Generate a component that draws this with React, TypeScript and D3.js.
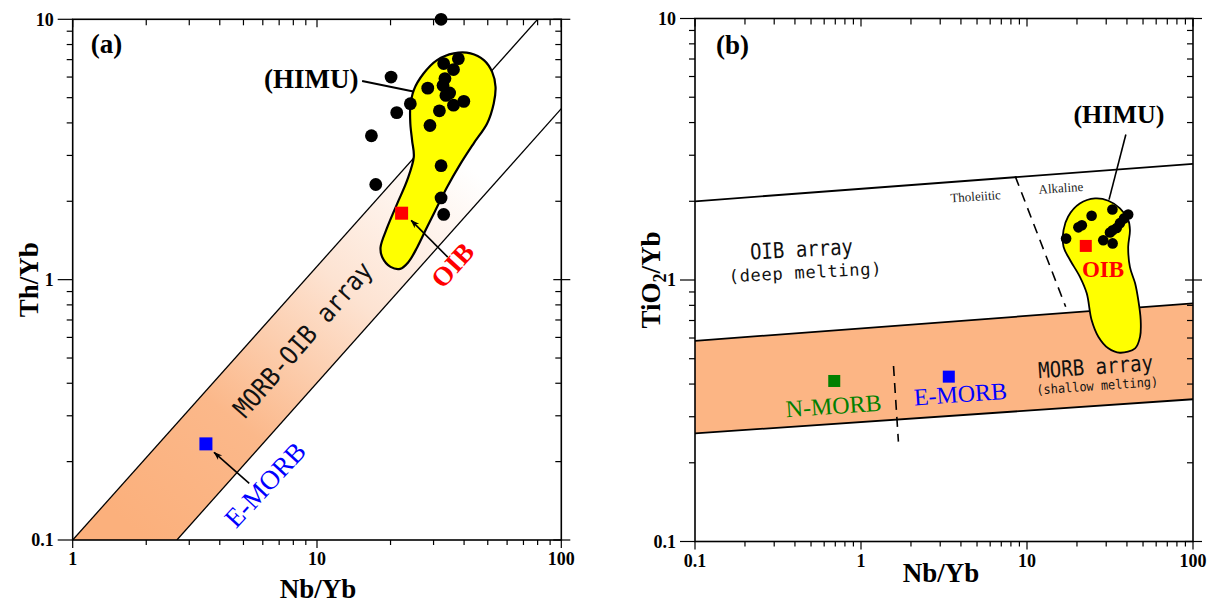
import React from 'react';
import * as d3 from 'd3';

const W = 1217;
const H = 605;

// ---------- Panel (a): Th/Yb vs Nb/Yb ----------
const aHimuNb = [32.2, 37.9, 33.0, 36.2, 20.1, 33.4, 32.8, 28.4, 34.9, 33.7, 24.1, 39.9, 36.2, 21.2, 31.7, 29.0, 16.7, 32.2, 17.4, 32.2, 33.0];
const aHimuTh = [10.0, 7.06, 6.76, 6.41, 6.0, 5.92, 5.57, 5.44, 5.21, 5.1, 4.74, 4.84, 4.68, 4.38, 4.45, 3.91, 3.57, 2.74, 2.32, 2.06, 1.78];
const aFieldNb = [36.3, 42.5, 48.2, 52.1, 53.8, 52.9, 49.7, 43.8, 38.7, 34.1, 31.0, 28.2, 25.7, 23.7, 21.9, 20.0, 18.5, 18.2, 19.4, 21.3, 23.4, 24.9, 24.5, 24.1, 24.1, 24.9, 27.3, 31.0];
const aFieldTh = [7.40, 7.40, 6.97, 6.28, 5.51, 4.75, 3.98, 3.34, 2.79, 2.27, 1.90, 1.59, 1.33, 1.17, 1.10, 1.12, 1.22, 1.33, 1.59, 1.96, 2.41, 2.96, 3.43, 3.98, 4.61, 5.35, 6.19, 6.97];
const aBandUpper = [[1, 0.1], [80, 10]];
const aBandLower = [[2.67, 0.1], [100, 4.54]];
const aOib = [22.2, 1.80];
const aEmorb = [3.51, 0.234];
const aXTickLabels = ['1', '10', '100'];
const aYTickLabels = ['0.1', '1', '10'];

// ---------- Panel (b): TiO2/Yb vs Nb/Yb ----------
const bHimuNb = [32.7, 40.7, 38.4, 36.3, 24.5, 21.4, 20.4, 34.7, 32.8, 31.6, 17.2, 28.8, 32.8];
const bHimuTi = [1.86, 1.78, 1.72, 1.65, 1.76, 1.62, 1.59, 1.58, 1.55, 1.52, 1.44, 1.42, 1.38];
const bFieldNb = [25.7, 30.9, 36.3, 40.7, 41.7, 40.7, 41.7, 44.8, 46.8, 48.4, 48.0, 44.8, 36.3, 30.9, 26.9, 24.5, 22.9, 20.8, 18.2, 16.6, 16.6, 17.7, 20.8];
const bFieldTi = [2.05, 2.01, 1.88, 1.70, 1.55, 1.34, 1.12, 0.971, 0.839, 0.703, 0.607, 0.548, 0.527, 0.548, 0.607, 0.703, 0.889, 1.03, 1.19, 1.34, 1.55, 1.75, 1.96];
const bOibLine = [[0.1, 2.0], [100, 2.78]];
const bMorbTop = [[0.1, 0.585], [100, 0.814]];
const bMorbBottom = [[0.1, 0.259], [100, 0.35]];
const bTholAlkDash = [[8.5, 2.49], [17.1, 0.79]];
const bNEDash = [[1.57, 0.469], [1.68, 0.241]];
const bOib = [22.6, 1.35];
const bNmorb = [0.69, 0.411];
const bEmorb = [3.38, 0.427];
const bXTickLabels = ['0.1', '1', '10', '100'];
const bYTickLabels = ['0.1', '1', '10'];

const SERIF = "'Liberation Serif', 'Times New Roman', serif";
const MONO = "'DejaVu Sans Mono', monospace";

const xA = d3.scaleLog().domain([1, 100]).range([72.7, 561.3]);
const yA = d3.scaleLog().domain([0.1, 10]).range([540, 19.3]);
const xB = d3.scaleLog().domain([0.1, 100]).range([695, 1193]);
const yB = d3.scaleLog().domain([0.1, 10]).range([541.5, 18.5]);

const isMajor = (v: number) => Math.abs(Math.log10(v) - Math.round(Math.log10(v))) < 1e-6;

function Axes({ x, y, xLabels, yLabels }: any) {
  const [x0, x1] = x.range();
  const [y0, y1] = y.range();
  const xt = x.ticks();
  const yt = y.ticks();
  const xMaj = xt.filter(isMajor);
  const yMaj = yt.filter(isMajor);
  return (
    <g stroke="#000" fill="none">
      <rect x={x0} y={y1} width={x1 - x0} height={y0 - y1} strokeWidth={1.6} />
      {xt.map((v: number, i: number) => {
        const m = isMajor(v);
        const px = x(v);
        return (
          <g key={'x' + i} strokeWidth={1.2}>
            <line x1={px} x2={px} y1={y0} y2={y0 + (m ? 8 : 5)} />
            <line x1={px} x2={px} y1={y1} y2={y1 + (m ? 8 : 6)} />
          </g>
        );
      })}
      {yt.map((v: number, i: number) => {
        const m = isMajor(v);
        const py = y(v);
        return (
          <g key={'y' + i} strokeWidth={1.2}>
            <line x1={x0} x2={x0 - (m ? 15 : 6)} y1={py} y2={py} />
            <line x1={x1 - (m ? 8 : 6)} x2={x1 + (m ? 9 : 0)} y1={py} y2={py} />
          </g>
        );
      })}
      <g fill="#000" stroke="none" fontFamily={SERIF} fontWeight="bold" fontSize={18}>
        {xMaj.map((v: number, i: number) => (
          <text key={'xl' + i} x={x(v)} y={y0 + 25} textAnchor="middle">{xLabels[i]}</text>
        ))}
        {yMaj.map((v: number, i: number) => (
          <text key={'yl' + i} x={x0 - 19} y={y(v)} dy="0.35em" textAnchor="end">{yLabels[i]}</text>
        ))}
      </g>
    </g>
  );
}

function lineD(x: any, y: any, pts: number[][]) {
  return d3.line<number[]>().x(d => x(d[0])).y(d => y(d[1]))(pts) as string;
}

function Label({ x, y, rot = 0, children, ...rest }: any) {
  return (
    <text x={x} y={y} transform={rot ? `rotate(${rot} ${x} ${y})` : undefined} textAnchor="middle" dominantBaseline="central" {...rest}>
      {children}
    </text>
  );
}

export default function App() {
  const closedCurve = d3.line<number[]>().curve(d3.curveCatmullRomClosed.alpha(0.5));

  const aFieldPts = aFieldNb.map((v, i) => [xA(v), yA(aFieldTh[i])]);
  const aBandPoly = [
    aBandUpper[0], aBandUpper[1], [100, 10], aBandLower[1], aBandLower[0],
  ].map(d => [xA(d[0]), yA(d[1])]);
  const aBandD = 'M' + aBandPoly.map(p => p.join(',')).join('L') + 'Z';

  const bFieldPts = bFieldNb.map((v, i) => [xB(v), yB(bFieldTi[i])]);
  const bBandPoly = [bMorbTop[0], bMorbTop[1], bMorbBottom[1], bMorbBottom[0]].map(d => [xB(d[0]), yB(d[1])]);
  const bBandD = 'M' + bBandPoly.map(p => p.join(',')).join('L') + 'Z';

  const sqA = 13;
  const sqB = 12;

  return (
    <div style={{ position: 'absolute', left: 0, top: 0 }}>
      <svg width={W} height={H} viewBox={`0 0 ${W} ${H}`} style={{ display: 'block', background: '#fff' }}>
        <defs>
          <clipPath id="clipA">
            <rect x={xA.range()[0]} y={yA.range()[1]} width={xA.range()[1] - xA.range()[0]} height={yA.range()[0] - yA.range()[1]} />
          </clipPath>
          <clipPath id="clipB">
            <rect x={xB.range()[0]} y={yB.range()[1]} width={xB.range()[1] - xB.range()[0]} height={yB.range()[0] - yB.range()[1]} />
          </clipPath>
          <linearGradient id="bandGrad" gradientUnits="userSpaceOnUse"
            x1={xA(1.6)} y1={yA(0.12)} x2={xA(30)} y2={yA(3.5)}>
            <stop offset="0" stopColor="#fbb07c" />
            <stop offset="0.3" stopColor="#fbb88a" />
            <stop offset="0.65" stopColor="#fde3d2" />
            <stop offset="1" stopColor="#ffffff" />
          </linearGradient>
          <marker id="arrow" viewBox="0 0 10 10" refX="9" refY="5" markerWidth="9" markerHeight="9" orient="auto" markerUnits="userSpaceOnUse">
            <path d="M0,1.5 L10,5 L0,8.5 L3,5 Z" fill="#000" />
          </marker>
        </defs>

        {/* ---------------- Panel (a) ---------------- */}
        <g clipPath="url(#clipA)">
          <path d={aBandD} fill="url(#bandGrad)" />
          <path d={lineD(xA, yA, aBandUpper)} stroke="#000" strokeWidth={1.3} fill="none" />
          <path d={lineD(xA, yA, aBandLower)} stroke="#000" strokeWidth={1.3} fill="none" />
        </g>
        <Label x={xA(8.75)} y={yA(0.589)} rot={-49} fontFamily={MONO} fontSize={26} fill="#111" textLength={196} lengthAdjust="spacingAndGlyphs">MORB-OIB array</Label>
        <path d={closedCurve(aFieldPts as any) as string} fill="#ffff00" stroke="#000" strokeWidth={2.2} />
        {aHimuNb.map((v, i) => (
          <circle key={'ad' + i} cx={xA(v)} cy={yA(aHimuTh[i])} r={6.4} fill="#000" />
        ))}
        <rect x={xA(aOib[0]) - sqA / 2} y={yA(aOib[1]) - sqA / 2} width={sqA} height={sqA} fill="#ff0000" />
        <rect x={xA(aEmorb[0]) - sqA / 2} y={yA(aEmorb[1]) - sqA / 2} width={sqA} height={sqA} fill="#0000ff" />
        <line x1={xA(15.3)} y1={yA(5.79)} x2={xA(24.8)} y2={yA(5.28)} stroke="#000" strokeWidth={2} />
        <line x1={xA(34.3)} y1={yA(1.22)} x2={xA(24.3)} y2={yA(1.69)} stroke="#000" strokeWidth={1.6} markerEnd="url(#arrow)" />
        <line x1={xA(5.28)} y1={yA(0.165)} x2={xA(3.79)} y2={yA(0.217)} stroke="#000" strokeWidth={1.6} markerEnd="url(#arrow)" />
        <Label x={xA(9.48)} y={yA(5.9)} fontFamily={SERIF} fontWeight="bold" fontSize={27} fill="#000">(HIMU)</Label>
        <Label x={xA(35.9)} y={yA(1.135)} rot={-48} fontFamily={SERIF} fontWeight="bold" fontSize={27} fill="#ff0000">OIB</Label>
        <Label x={xA(6.14)} y={yA(0.163)} rot={-47} fontFamily={SERIF} fontSize={27} fill="#0000ff">E-MORB</Label>
        <text x={xA.range()[0] + 18} y={53} fontFamily={SERIF} fontWeight="bold" fontSize={27} fill="#000">(a)</text>
        <Axes x={xA} y={yA} xLabels={aXTickLabels} yLabels={aYTickLabels} />
        <text x={(xA.range()[0] + xA.range()[1]) / 2 + 1} y={598} textAnchor="middle" fontFamily={SERIF} fontWeight="bold" fontSize={27}>Nb/Yb</text>
        <text transform={`translate(38 ${yA(1)}) rotate(-90)`} textAnchor="middle" fontFamily={SERIF} fontWeight="bold" fontSize={27}>Th/Yb</text>

        {/* ---------------- Panel (b) ---------------- */}
        <g clipPath="url(#clipB)">
          <path d={bBandD} fill="#fcb584" />
          <path d={lineD(xB, yB, bMorbTop)} stroke="#000" strokeWidth={1.8} fill="none" />
          <path d={lineD(xB, yB, bMorbBottom)} stroke="#000" strokeWidth={1.8} fill="none" />
          <path d={lineD(xB, yB, bOibLine)} stroke="#000" strokeWidth={1.8} fill="none" />
          <path d={lineD(xB, yB, bTholAlkDash)} stroke="#000" strokeWidth={1.6} fill="none" strokeDasharray="10,7" />
          <path d={lineD(xB, yB, bNEDash)} stroke="#000" strokeWidth={1.6} fill="none" strokeDasharray="10,7" />
        </g>
        <path d={closedCurve(bFieldPts as any) as string} fill="#ffff00" stroke="#000" strokeWidth={1.8} />
        {bHimuNb.map((v, i) => (
          <circle key={'bd' + i} cx={xB(v)} cy={yB(bHimuTi[i])} r={5.3} fill="#000" />
        ))}
        <rect x={xB(bOib[0]) - sqB / 2} y={yB(bOib[1]) - sqB / 2} width={sqB} height={sqB} fill="#ff0000" />
        <rect x={xB(bNmorb[0]) - sqB / 2} y={yB(bNmorb[1]) - sqB / 2} width={sqB} height={sqB} fill="#008000" />
        <rect x={xB(bEmorb[0]) - sqB / 2} y={yB(bEmorb[1]) - sqB / 2} width={sqB} height={sqB} fill="#0000ff" />
        <line x1={xB(39.4)} y1={yB(3.6)} x2={xB(31.2)} y2={yB(2.03)} stroke="#000" strokeWidth={1.6} />
        <Label x={xB(35.8)} y={yB(4.3)} fontFamily={SERIF} fontWeight="bold" fontSize={26} fill="#000">(HIMU)</Label>
        <Label x={xB(4.9)} y={yB(2.09)} rot={-4} fontFamily={SERIF} fontSize={13} fill="#222">Tholeiitic</Label>
        <Label x={xB(16.0)} y={yB(2.25)} rot={-4} fontFamily={SERIF} fontSize={13} fill="#222">Alkaline</Label>
        <Label x={xB(0.438)} y={yB(1.31)} rot={-3} fontFamily={MONO} fontSize={22} fill="#111" textLength={103} lengthAdjust="spacingAndGlyphs">OIB array</Label>
        <Label x={xB(0.46)} y={yB(1.07)} rot={-3} fontFamily={MONO} fontSize={17} fill="#111" textLength={153} lengthAdjust="spacing">(deep melting)</Label>
        <Label x={xB(28.7)} y={yB(1.10)} fontFamily={SERIF} fontWeight="bold" fontSize={23} fill="#ff0000">OIB</Label>
        <Label x={xB(0.684)} y={yB(0.33)} rot={-4} fontFamily={SERIF} fontSize={24} fill="#008000">N-MORB</Label>
        <Label x={xB(3.97)} y={yB(0.366)} rot={-4} fontFamily={SERIF} fontSize={24} fill="#0000ff">E-MORB</Label>
        <Label x={xB(25.9)} y={yB(0.466)} rot={-4} fontFamily={MONO} fontSize={22} fill="#111" textLength={115} lengthAdjust="spacingAndGlyphs">MORB array</Label>
        <Label x={xB(26.5)} y={yB(0.394)} rot={-4} fontFamily={MONO} fontSize={13} fill="#111" textLength={122} lengthAdjust="spacingAndGlyphs">(shallow melting)</Label>
        <text x={xB.range()[0] + 21} y={54} fontFamily={SERIF} fontWeight="bold" fontSize={27} fill="#000">(b)</text>
        <Axes x={xB} y={yB} xLabels={bXTickLabels} yLabels={bYTickLabels} />
        <text x={941} y={582} textAnchor="middle" fontFamily={SERIF} fontWeight="bold" fontSize={27}>Nb/Yb</text>
        <text transform={`translate(660 ${yB(1)}) rotate(-90)`} textAnchor="middle" fontFamily={SERIF} fontWeight="bold" fontSize={27}>
          TiO<tspan fontSize={18} dy={6}>2</tspan><tspan dy={-6}>/Yb</tspan>
        </text>
      </svg>
    </div>
  );
}
